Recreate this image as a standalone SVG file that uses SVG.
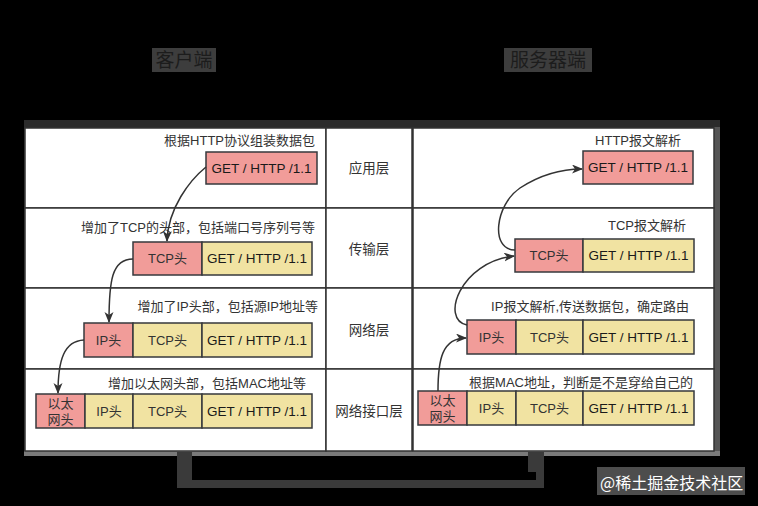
<svg xmlns="http://www.w3.org/2000/svg" width="758" height="506" viewBox="0 0 758 506">
<style>
text{font-family:"Liberation Sans","Noto Sans CJK SC",sans-serif;}
.cell{fill:#ffffff;stroke:#333333;stroke-width:1.5;}
.red{fill:#f19c99;stroke:#36393d;stroke-width:1.5;}
.yel{fill:#f1e3a2;stroke:#36393d;stroke-width:1.5;}
.lbl{font-size:13px;fill:#333333;text-anchor:end;}
.box{font-size:13.5px;fill:#1a1a1a;text-anchor:middle;}
.boxr{font-size:13px;fill:#333333;text-anchor:middle;}
.layer{font-size:13.5px;fill:#333333;text-anchor:middle;}
.title{font-size:19px;fill:#1c1c1c;text-anchor:middle;}
.edge{fill:none;stroke:#333333;stroke-width:1.5;}
</style>
<defs>
<marker id="arr" markerWidth="12" markerHeight="10" refX="10" refY="4.5" orient="auto" markerUnits="userSpaceOnUse">
<path d="M0,0 L11,4.5 L0,9 L3,4.5 Z" fill="#333333"/>
</marker>
</defs>
<rect x="0" y="0" width="758" height="506" fill="#000000"/>

<g id="titles">
<rect x="152" y="48" width="64" height="24" fill="#3d3d3d"/>
<text class="title" x="184" y="67">客户端</text>
<rect x="504" y="48" width="88" height="24" fill="#3d3d3d"/>
<text class="title" x="548" y="67">服务器端</text>
</g>

<g id="frame">
<rect x="24" y="120" width="696" height="336" fill="#2b2b2b"/>
<rect x="714" y="127" width="6" height="329" fill="#555555"/>
<rect x="24" y="451" width="696" height="5" fill="#7a7a7a"/>
</g>

<g id="client">
<rect class="cell" x="25" y="128" width="301" height="80"/>
<rect class="cell" x="25" y="208" width="301" height="80"/>
<rect class="cell" x="25" y="288" width="301" height="81"/>
<rect class="cell" x="25" y="369" width="301" height="82"/>
<text class="lbl" x="315" y="145">根据HTTP协议组装数据包</text>
<text class="lbl" x="315" y="232">增加了TCP的头部，包括端口号序列号等</text>
<text class="lbl" x="318" y="311">增加了IP头部，包括源IP地址等</text>
<text class="lbl" x="306" y="388">增加以太网头部，包括MAC地址等</text>
</g>

<g id="c-app-get">
<rect class="red" x="206" y="152" width="111" height="32"/>
<text class="box" x="261.5" y="173">GET / HTTP /1.1</text>
</g>
<g id="c-tcp-head">
<rect class="red" x="133" y="242" width="69" height="33"/>
<text class="boxr" x="167.5" y="263">TCP头</text>
</g>
<g id="c-tcp-get">
<rect class="yel" x="202" y="242" width="110" height="33"/>
<text class="box" x="257" y="263">GET / HTTP /1.1</text>
</g>
<g id="c-ip-head">
<rect class="red" x="84" y="323" width="49" height="34"/>
<text class="boxr" x="108.5" y="345">IP头</text>
</g>
<g id="c-ip-tcp">
<rect class="yel" x="133" y="323" width="69" height="34"/>
<text class="boxr" x="167.5" y="345">TCP头</text>
</g>
<g id="c-ip-get">
<rect class="yel" x="202" y="323" width="110" height="34"/>
<text class="box" x="257" y="345">GET / HTTP /1.1</text>
</g>
<g id="c-eth-head">
<rect class="red" x="36" y="394" width="49" height="34"/>
<text class="boxr" x="60.5" y="408">以太</text>
<text class="boxr" x="60.5" y="424">网头</text>
</g>
<g id="c-eth-ip">
<rect class="yel" x="85" y="394" width="48" height="34"/>
<text class="boxr" x="109" y="416">IP头</text>
</g>
<g id="c-eth-tcp">
<rect class="yel" x="133" y="394" width="69" height="34"/>
<text class="boxr" x="167.5" y="416">TCP头</text>
</g>
<g id="c-eth-get">
<rect class="yel" x="202" y="394" width="110" height="34"/>
<text class="box" x="257" y="416">GET / HTTP /1.1</text>
</g>

<g id="layers">
<rect class="cell" x="326" y="128" width="86" height="80"/>
<rect class="cell" x="326" y="208" width="86" height="80"/>
<rect class="cell" x="326" y="288" width="86" height="81"/>
<rect class="cell" x="326" y="369" width="86" height="82"/>
<text class="layer" x="369" y="173">应用层</text>
<text class="layer" x="369" y="254">传输层</text>
<text class="layer" x="369" y="335">网络层</text>
<text class="layer" x="369" y="416">网络接口层</text>
</g>

<g id="server">
<rect class="cell" x="413" y="128" width="301" height="80"/>
<rect class="cell" x="413" y="208" width="301" height="80"/>
<rect class="cell" x="413" y="288" width="301" height="81"/>
<rect class="cell" x="413" y="369" width="301" height="82"/>
<text class="lbl" x="681" y="145">HTTP报文解析</text>
<text class="lbl" x="686" y="230">TCP报文解析</text>
<text class="lbl" x="689" y="311">IP报文解析,传送数据包，确定路由</text>
<text class="lbl" x="693" y="387">根据MAC地址，判断是不是穿给自己的</text>
</g>

<g id="s-app-get">
<rect class="red" x="583" y="151" width="110" height="33"/>
<text class="box" x="638" y="172">GET / HTTP /1.1</text>
</g>
<g id="s-tcp-head">
<rect class="red" x="515" y="239" width="68" height="33"/>
<text class="boxr" x="549" y="260">TCP头</text>
</g>
<g id="s-tcp-get">
<rect class="yel" x="583" y="239" width="111" height="33"/>
<text class="box" x="638.5" y="260">GET / HTTP /1.1</text>
</g>
<g id="s-ip-head">
<rect class="red" x="467" y="320" width="49" height="34"/>
<text class="boxr" x="491.5" y="342">IP头</text>
</g>
<g id="s-ip-tcp">
<rect class="yel" x="516" y="320" width="67" height="34"/>
<text class="boxr" x="549.5" y="342">TCP头</text>
</g>
<g id="s-ip-get">
<rect class="yel" x="583" y="320" width="111" height="34"/>
<text class="box" x="638.5" y="342">GET / HTTP /1.1</text>
</g>
<g id="s-eth-head">
<rect class="red" x="418" y="391" width="49" height="34"/>
<text class="boxr" x="442.5" y="405">以太</text>
<text class="boxr" x="442.5" y="421">网头</text>
</g>
<g id="s-eth-ip">
<rect class="yel" x="467" y="391" width="49" height="34"/>
<text class="boxr" x="491.5" y="413">IP头</text>
</g>
<g id="s-eth-tcp">
<rect class="yel" x="516" y="391" width="67" height="34"/>
<text class="boxr" x="549.5" y="413">TCP头</text>
</g>
<g id="s-eth-get">
<rect class="yel" x="583" y="391" width="111" height="34"/>
<text class="box" x="638.5" y="413">GET / HTTP /1.1</text>
</g>

<g id="connectors">
<path class="edge" d="M206,167 C190,180 168,208 167,241" marker-end="url(#arr)"/>
<path class="edge" d="M133,259 C112,259 109,280 109,322" marker-end="url(#arr)"/>
<path class="edge" d="M84,340 C64,341 58,360 58,393" marker-end="url(#arr)"/>
<path class="edge" d="M438,391 C438,360 442,338 466,338" marker-end="url(#arr)"/>
<path class="edge" d="M467,325 C440,320 460,262 514,256" marker-end="url(#arr)"/>
<path class="edge" d="M515,250 C490,250 495,205 520,188 C540,175 560,169 582,169" marker-end="url(#arr)"/>
<path d="M177,452 H192 V480 H536 V472 H528 V452 H544 V488 H177 Z" fill="#3a3a3a"/>
</g>

<g id="watermark">
<rect x="597" y="467" width="148" height="28" fill="#ffffff" fill-opacity="0.3"/>
<text x="600" y="489" font-size="16" fill="#ffffff" style="font-family:'Noto Sans CJK SC',sans-serif;">@稀土掘金技术社区</text>
</g>
</svg>
